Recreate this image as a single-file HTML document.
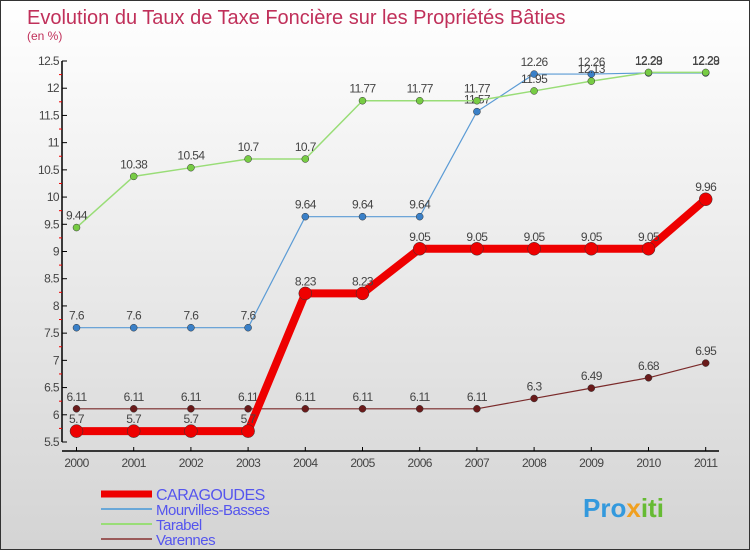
<!DOCTYPE html>
<html><head><meta charset="utf-8"><style>
body{margin:0}
#c{width:750px;height:550px;position:relative;overflow:hidden;background:linear-gradient(#ffffff,#d4d4d4);border:1px solid #333;box-sizing:border-box}
svg{position:absolute;left:0;top:0}
text{font-family:"Liberation Sans",sans-serif}
</style></head><body>
<div id="c">
<svg id="s" width="750" height="550">
<text x="26" y="23" font-size="20" fill="#c0305a">Evolution du Taux de Taxe Foncière sur les Propriétés Bâties</text>
<text x="26" y="39" font-size="12" fill="#c0305a">(en %)</text>
</svg>
</div>
<script>
const years=[2000,2001,2002,2003,2004,2005,2006,2007,2008,2009,2010,2011];
const yTicks=[5.5,6,6.5,7,7.5,8,8.5,9,9.5,10,10.5,11,11.5,12,12.5];
const caragoudes=[5.7,5.7,5.7,5.7,8.23,8.23,9.05,9.05,9.05,9.05,9.05,9.96];
const mourvilles=[7.6,7.6,7.6,7.6,9.64,9.64,9.64,11.57,12.26,12.26,12.28,12.28];
const tarabel=[9.44,10.38,10.54,10.7,10.7,11.77,11.77,11.77,11.95,12.13,12.29,12.29];
const varennes=[6.11,6.11,6.11,6.11,6.11,6.11,6.11,6.11,6.3,6.49,6.68,6.95];
const seriesNames=["CARAGOUDES","Mourvilles-Basses","Tarabel","Varennes"];
const NS="http://www.w3.org/2000/svg",svg=document.getElementById('s');
const X=i=>75.5+i*57.2, Y=v=>60+(12.5-v)*(381/7);
function el(t,a,p){const e=document.createElementNS(NS,t);for(const k in a)e.setAttribute(k,a[k]);(p||svg).appendChild(e);return e;}
let ax=el('line',{x1:61,y1:60,x2:61,y2:441,stroke:'#000','stroke-width':1.5});


let xa=el('line',{x1:61,y1:450,x2:718,y2:450,stroke:'#000','stroke-width':1.5});


yTicks.forEach(v=>{
 el('line',{x1:61,y1:Y(v),x2:66,y2:Y(v),stroke:'#000'});
 el('line',{x1:58,y1:Y(v)+13.6,x2:61,y2:Y(v)+13.6,stroke:v>5.5?'#e00':'none'});
 const t=el('text',{x:58,y:Y(v)+4,'font-size':12,'text-anchor':'end',fill:'#444','letter-spacing':'-0.6'});t.textContent=v;
 
 
});
years.forEach((y,i)=>{
 el('line',{x1:X(i),y1:446,x2:X(i),y2:450,stroke:'#000'});
 const t=el('text',{x:X(i),y:466,'font-size':12,'text-anchor':'middle',fill:'#444','letter-spacing':'-0.6'});t.textContent=y;
 
 
});
function series(data,color,w,r,dot,name){
 const g=el('g',{});
 
 
 el('polyline',{points:data.map((v,i)=>X(i)+','+Y(v)).join(' '),fill:'none',stroke:color,'stroke-width':w,'stroke-linejoin':'round'},g);
 data.forEach((v,i)=>{
  const c=el('circle',{cx:X(i),cy:Y(v),r:r,fill:dot,stroke:'#333','stroke-width':0.5},g);
  
  
  const t=el('text',{x:X(i),y:Y(v)-8,'font-size':12,'text-anchor':'middle',fill:'#444','letter-spacing':'-0.6'},g);t.textContent=v;
 });
}
series(varennes,'#7a2a2a',1.2,3.5,'#6a1a1a','series-varennes');
series(mourvilles,'#5b9bd5',1.2,3.5,'#3a80c8','series-mourvilles-basses');
series(tarabel,'#99dd77',1.5,3.5,'#77cc44','series-tarabel');
series(caragoudes,'#ee0000',8,6.5,'#ee0000','series-caragoudes');
const colors=['#ee0000','#6aa8d8','#99dd77','#9a5a5a'],widths=[7,2,2,2];
seriesNames.forEach((n,i)=>{
 const y=493+i*15;
 const l=el('line',{x1:100,y1:y,x2:151,y2:y,stroke:colors[i],'stroke-width':widths[i]});
 
 
 const t=el('text',{x:155,y:y+6,'font-size':i==0?16:15,fill:'#5555ee','letter-spacing':'-0.5'});t.textContent=n;
 
 
});
const lg=el('text',{x:582,y:516,'font-size':26,'font-weight':'bold',fill:'#3399dd'});


lg.innerHTML='<tspan fill="#3399dd">Pro</tspan><tspan fill="#f0a020">x</tspan><tspan fill="#66bb33">iti</tspan>';
</script>
</body></html>
